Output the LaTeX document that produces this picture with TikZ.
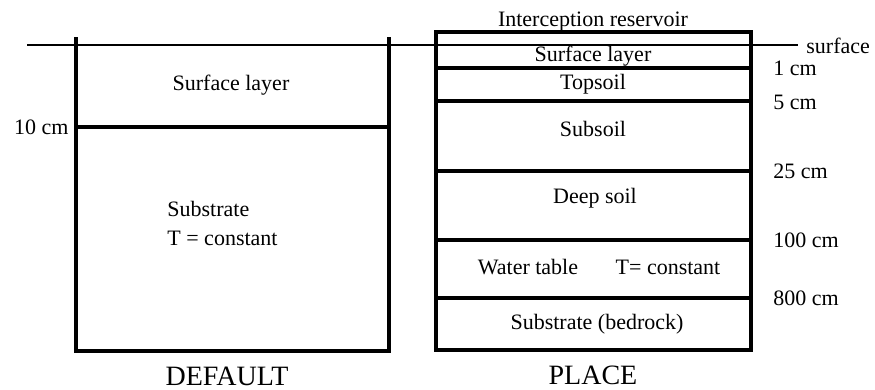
\documentclass[tikz,border=0pt]{standalone}
\usepackage{fontspec}
\setmainfont{Liberation Serif}
\usepackage{tikz}
\usetikzlibrary{positioning,calc}

\begin{document}
\begin{tikzpicture}[
    x=0.5pt, y=-0.5pt,
    font=\fontsize{11}{13}\selectfont,
    soilLine/.style={line width=1.6pt, line cap=rect},
    surfLine/.style={line width=1.4pt},
    layerText/.style={inner sep=0pt, anchor=center},
    depthText/.style={inner sep=0pt, anchor=west},
    titleText/.style={inner sep=0pt, anchor=center, font=\fontsize{14}{16}\selectfont}
]
\useasboundingbox (0,0) rectangle (875,390);

% Ground surface
\draw[surfLine] (27,45) -- (798,45);
\node[depthText] (surf) at (806,46) {surface};

% Left: DEFAULT column
\draw[soilLine] (76,39) -- (76,351) -- (389,351) -- (389,39);
\draw[soilLine] (76,127) -- (389,127);
\node[layerText] (defSurf) at (231,85) {Surface layer};
\node[inner sep=0pt, anchor=east] (defDepth) at (69,127) {10 cm};
\node[depthText] (defSub) at (167,209) {Substrate};
\node[depthText] (defT) at (167,238) {T = constant};
\node[titleText] (default) at (227,376) {DEFAULT};

% Right: PLACE column
\draw[soilLine] (436,32) rectangle (751,350);
\foreach \y in {68,101,171,240,298}
    \draw[soilLine] (436,\y) -- (751,\y);
\node[layerText] (interc) at (593,22) {Interception reservoir};
\node[layerText] (plSurf) at (593,56) {Surface layer};
\node[layerText] (topsoil) at (593,84) {Topsoil};
\node[layerText] (subsoil) at (593,129) {Subsoil};
\node[layerText] (deep) at (595,198) {Deep soil};
\node[layerText] (water) at (528,267) {Water table};
\node[layerText] (plT) at (668,267) {T= constant};
\node[layerText] (bedrock) at (597,324) {Substrate (bedrock)};
\node[titleText] (place) at (593,375) {PLACE};

% Depth marks
\node[depthText] (d1) at (773,68) {1 cm};
\node[depthText] (d5) at (773,102) {5 cm};
\node[depthText] (d25) at (773,171) {25 cm};
\node[depthText] (d100) at (773,240) {100 cm};
\node[depthText] (d800) at (773,298) {800 cm};

\end{tikzpicture}
\end{document}
